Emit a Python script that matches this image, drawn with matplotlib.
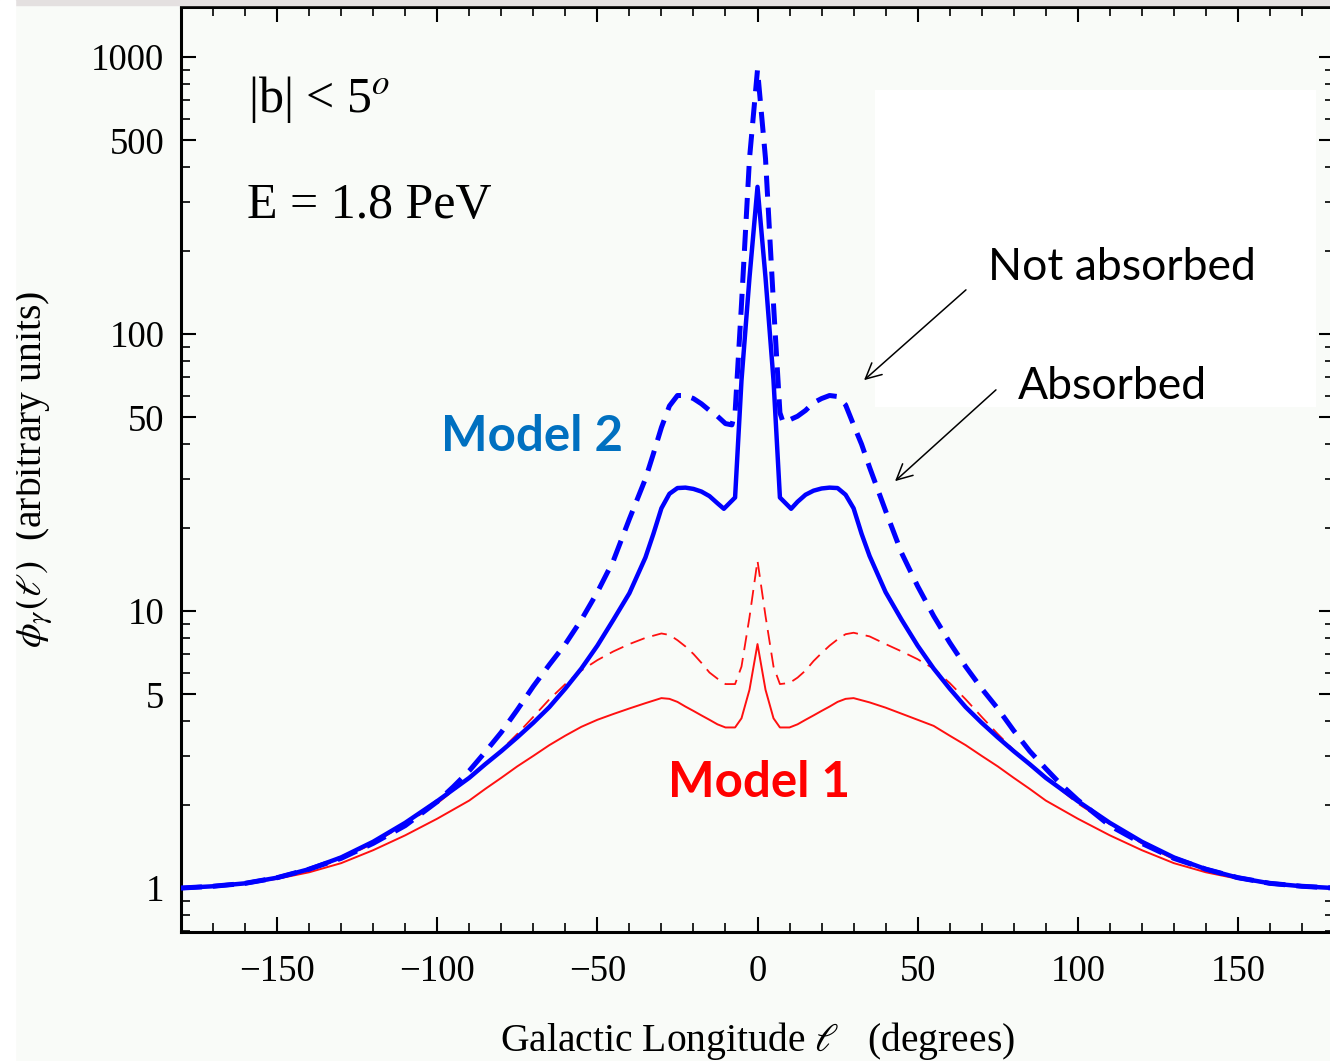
import matplotlib.pyplot as plt
import matplotlib.ticker as ticker
from matplotlib.patches import Rectangle

# Model 2, not absorbed (dashed blue)
lon_m2_free = [-180, -170, -160, -150, -140, -130, -120, -110, -100, -95, -90, -85, -80, -75,
               -70, -65, -60, -55, -50, -45, -40, -35, -32.5, -30, -27.5, -25, -22.5, -20,
               -17.5, -15, -12.5, -10, -8, -7, -5, -2.5, 0,
               2.5, 5, 7, 8, 10, 12.5, 15, 17.5, 20, 22.5, 25, 27.5, 30, 32.5, 35, 40,
               45, 50, 55, 60, 65, 70, 75, 80, 85, 90, 95, 100, 110, 120, 130, 140, 150,
               160, 170, 180]
m2_free = [1.0, 1.015, 1.04, 1.09, 1.17, 1.28, 1.45, 1.68, 2.05, 2.32, 2.65, 3.1, 3.65, 4.4,
           5.35, 6.4, 7.6, 9.3, 11.7, 15.2, 21.5, 30.0, 37.0, 46.0, 55.0, 60.0, 60.0, 58.5,
           56.0, 53.0, 50.5, 47.5, 47.0, 52.0, 128.0, 430.0, 900.0,
           430.0, 128.0, 52.0, 48.0, 49.0, 50.5, 53.0, 56.5, 58.5, 60.0, 59.5, 55.5, 47.0, 40.0, 33.0, 23.0,
           16.2, 12.3, 9.6, 7.7, 6.3, 5.25, 4.45, 3.7, 3.12, 2.7, 2.35, 2.08, 1.68, 1.45, 1.28, 1.17, 1.09,
           1.04, 1.015, 1.0]

# Model 2, absorbed (solid blue)
lon_m2_abs = [-180, -170, -160, -150, -140, -130, -120, -110, -100, -90, -85, -80, -75, -70,
              -65, -60, -55, -50, -45, -40, -35, -32.5, -30, -27.5, -25, -22.5, -20, -17.5,
              -15, -12.5, -10.5, -7, -5, -2.5, 0,
              2.5, 5, 7, 10.5, 12.5, 15, 17.5, 20, 22.5, 25, 27.5, 30, 32.5, 35, 40, 45,
              50, 55, 60, 65, 70, 75, 80, 85, 90, 100, 110, 120, 130, 140, 150, 160, 170, 180]
m2_abs = [1.0, 1.015, 1.04, 1.09, 1.17, 1.29, 1.47, 1.72, 2.06, 2.5, 2.8, 3.12, 3.5, 3.95,
          4.5, 5.25, 6.2, 7.5, 9.3, 11.6, 15.6, 19.0, 23.5, 26.5, 27.8, 27.9, 27.6, 27.0,
          26.0, 24.5, 23.4, 25.7, 68.0, 160.0, 340.0,
          160.0, 68.0, 25.7, 23.4, 24.8, 26.3, 27.2, 27.7, 27.9, 27.8, 26.3, 23.5, 19.0, 15.8, 11.7, 9.3,
          7.5, 6.2, 5.25, 4.5, 3.95, 3.5, 3.12, 2.8, 2.5, 2.06, 1.72, 1.47, 1.29, 1.17, 1.09, 1.04, 1.015, 1.0]

# Model 1, not absorbed (dashed red)
lon_m1_free = [-180, -170, -160, -150, -140, -130, -120, -110, -100, -90, -85, -80, -75, -70,
               -65, -60, -55, -50, -45, -40, -35, -30, -27.5, -25, -22.5, -20, -17.5, -15,
               -12.5, -10, -7, -5, -2.5, 0,
               2.5, 5, 7, 10, 12.5, 15, 17.5, 20, 22.5, 25, 27.5, 30, 35, 40, 45, 50, 55,
               60, 65, 70, 75, 80, 85, 90, 100, 110, 120, 130, 140, 150, 160, 170, 180]
m1_free = [1.0, 1.015, 1.04, 1.09, 1.16, 1.27, 1.45, 1.70, 2.02, 2.5, 2.78, 3.15, 3.6, 4.15,
           4.8, 5.45, 6.1, 6.65, 7.15, 7.6, 8.0, 8.3, 8.2, 7.85, 7.45, 7.0, 6.5, 6.0,
           5.7, 5.45, 5.45, 6.3, 9.5, 15.2,
           9.6, 6.3, 5.45, 5.5, 5.75, 6.1, 6.6, 7.05, 7.5, 7.9, 8.25, 8.35, 8.1, 7.6, 7.15, 6.7, 6.2,
           5.5, 4.8, 4.15, 3.6, 3.15, 2.78, 2.5, 2.02, 1.70, 1.45, 1.27, 1.16, 1.09, 1.04, 1.015, 1.0]

# Model 1, absorbed (solid red)
lon_m1_abs = [-180, -170, -160, -150, -140, -130, -120, -110, -100, -90, -85, -80, -75, -70,
              -65, -60, -55, -50, -45, -40, -35, -30, -27.5, -25, -22.5, -20, -17.5, -15,
              -12.5, -10, -7, -5, -2.5, 0,
              2.5, 5, 7, 10, 12.5, 15, 17.5, 20, 22.5, 25, 27.5, 30, 35, 40, 45, 50, 55,
              60, 65, 70, 75, 80, 85, 90, 100, 110, 120, 130, 140, 150, 160, 170, 180]
m1_abs = [1.0, 1.01, 1.035, 1.08, 1.14, 1.23, 1.37, 1.55, 1.78, 2.07, 2.28, 2.5, 2.75, 3.0,
          3.28, 3.55, 3.82, 4.05, 4.25, 4.45, 4.65, 4.85, 4.82, 4.7, 4.52, 4.36, 4.2, 4.05,
          3.9, 3.8, 3.8, 4.1, 5.2, 7.6,
          5.2, 4.1, 3.8, 3.8, 3.9, 4.05, 4.2, 4.36, 4.52, 4.7, 4.82, 4.85, 4.68, 4.48, 4.26, 4.05, 3.85,
          3.55, 3.28, 3.0, 2.75, 2.5, 2.28, 2.07, 1.78, 1.55, 1.37, 1.23, 1.14, 1.08, 1.035, 1.01, 1.0]

y_major = [1, 5, 10, 50, 100, 500, 1000]
x_major = [-150, -100, -50, 0, 50, 100, 150]

BLUE = '#0000ff'
RED = '#ff1010'
BG = '#f9fbf8'

plt.rcParams['font.family'] = ['Liberation Serif', 'DejaVu Serif']
plt.rcParams['mathtext.fontset'] = 'stix'

fig = plt.figure(figsize=(13.3, 10.61), dpi=100, facecolor=BG)
# thin grey strip along the top edge and white margin on the left
fig.patches.append(Rectangle((15 / 1330, 1 - 5 / 1061), 1, 5 / 1061,
                             transform=fig.transFigure, color='#e4e0e0', zorder=0))
fig.patches.append(Rectangle((0, 0), 15 / 1330, 1, transform=fig.transFigure,
                             color='white', zorder=0))

ax = fig.add_axes([181 / 1330, 129 / 1061, 1153 / 1330, 925 / 1061])
ax.set_facecolor(BG)
ax.add_patch(Rectangle((0.602, 0.568), 0.382, 0.342, transform=ax.transAxes,
                       color='white', zorder=0.5, lw=0))

ax.plot(lon_m1_abs, m1_abs, color=RED, lw=1.4, zorder=2)
ax.plot(lon_m1_free, m1_free, color=RED, lw=1.3, dashes=(8.3, 4.4), zorder=2)
ax.plot(lon_m2_abs, m2_abs, color=BLUE, lw=3.2, zorder=3)
ax.plot(lon_m2_free, m2_free, color=BLUE, lw=3.6, dashes=(4.2, 2.2), zorder=3)

ax.set_yscale('log')
ax.set_xlim(-180, 180)
ax.set_ylim(0.694, 1516)

ax.yaxis.set_major_locator(ticker.FixedLocator(y_major))
ax.yaxis.set_major_formatter(ticker.FixedFormatter([str(v) for v in y_major]))
ax.yaxis.set_minor_locator(ticker.LogLocator(base=10, subs=[2, 3, 4, 6, 7, 8, 9]))
ax.yaxis.set_minor_formatter(ticker.NullFormatter())
ax.xaxis.set_major_locator(ticker.FixedLocator(x_major))
ax.xaxis.set_minor_locator(ticker.MultipleLocator(10))

ax.tick_params(which='both', direction='in', top=True, right=True, labelsize=26.5)
ax.tick_params(which='major', length=11, width=1.5, pad=12)
ax.tick_params(which='minor', length=6.5, width=1.2)
ax.tick_params(axis='x', which='major', pad=16)
for s in ax.spines.values():
    s.set_linewidth(2.2)

ax.set_xlabel(r'Galactic Longitude $\ell$   (degrees)', fontsize=28.5, va='center')
ax.xaxis.set_label_coords(0.5, -0.118)
ax.set_ylabel(r'$\phi_\gamma(\ell)$  (arbitrary units)', fontsize=28.5, va='center')
ax.yaxis.set_label_coords(-0.129, 0.5)

ax.text(0.058, 0.8995, r'|b| < 5$^{o}$', transform=ax.transAxes, fontsize=36,
        va='center', ha='left')
ax.text(0.057, 0.785, 'E = 1.8 PeV', transform=ax.transAxes, fontsize=36,
        va='center', ha='left')

ax.text(-70.3, 42.5, 'Model 2', fontsize=35.5, family='Lato', weight='bold',
        color='#0070c0', ha='center', va='center', zorder=4)
ax.text(0.6, 2.41, 'Model 1', fontsize=35.5, family='Lato', weight='bold',
        color='#ff0000', ha='center', va='center', zorder=4)

ax.text(0.700, 0.718, 'Not absorbed', transform=ax.transAxes, fontsize=32,
        family='Lato', ha='left', va='center')
ax.text(0.726, 0.590, 'Absorbed', transform=ax.transAxes, fontsize=32,
        family='Lato', ha='left', va='center')

arrow = dict(arrowstyle='->', color='black', lw=1.1, mutation_scale=28)
ax.annotate('', xy=(0.5906, 0.5946), xytext=(0.6826, 0.6962),
            xycoords='axes fraction', arrowprops=arrow)
ax.annotate('', xy=(0.6175, 0.4854), xytext=(0.7086, 0.5881),
            xycoords='axes fraction', arrowprops=arrow)

fig.savefig('out.png', dpi=100, facecolor=fig.get_facecolor())
